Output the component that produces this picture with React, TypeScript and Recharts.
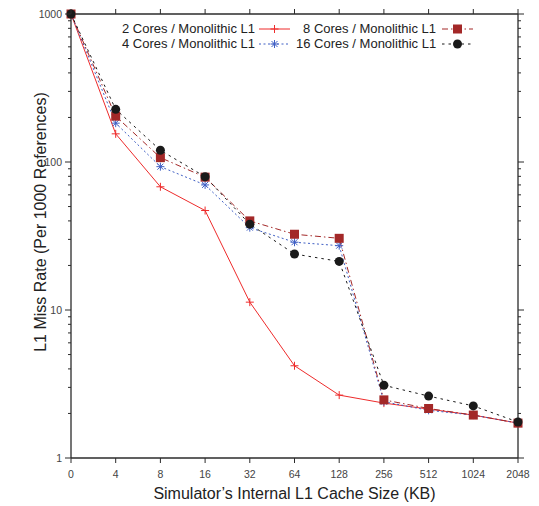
import React from 'react';
import {LineChart, Line, XAxis, YAxis, Legend} from 'recharts';

// L1 cache size in KB (categories on the x axis)
const cacheSizes = ['0', '4', '8', '16', '32', '64', '128', '256', '512', '1024', '2048'];
// miss rate per 1000 references
const twoCores = [1000, 155, 68, 47, 11.3, 4.2, 2.66, 2.35, 2.14, 1.95, 1.72];
const fourCores = [1000, 183, 93, 70, 36, 28.7, 27.2, 2.4, 2.1, 1.95, 1.72];
const eightCores = [1000, 204, 107, 79, 40, 32.5, 30.5, 2.47, 2.16, 1.95, 1.72];
const sixteenCores = [1000, 227, 120, 79.5, 38, 23.9, 21.3, 3.1, 2.62, 2.25, 1.75];

const yTicks = [1, 2, 3, 4, 5, 6, 7, 8, 9, 10, 20, 30, 40, 50, 60, 70, 80, 90, 100, 200, 300, 400, 500, 600, 700, 800, 900, 1000];
const majorTicks = [1, 10, 100, 1000];

const data = cacheSizes.map((size, i) => ({
    size,
    c2: twoCores[i],
    c4: fourCores[i],
    c8: eightCores[i],
    c16: sixteenCores[i],
}));

type MarkerKind = 'plus' | 'star' | 'square' | 'circle';
interface SeriesDef {
    key: string;
    name: string;
    color: string;
    dash?: string;
    marker: MarkerKind;
}

const series: Record<string, SeriesDef> = {
    c2: {key: 'c2', name: '2 Cores / Monolithic L1', color: '#ee2b2b', marker: 'plus'},
    c4: {key: 'c4', name: '4 Cores / Monolithic L1', color: '#3f5fc4', dash: '2 2.5', marker: 'star'},
    c8: {key: 'c8', name: '8 Cores / Monolithic L1', color: '#a32828', dash: '6 3 1.5 3', marker: 'square'},
    c16: {key: 'c16', name: '16 Cores / Monolithic L1', color: '#1a1a1a', dash: '2.5 4', marker: 'circle'},
};
const drawOrder = ['c2', 'c4', 'c8', 'c16'];
const legendOrder = ['c2', 'c8', 'c4', 'c16'];

const AXIS = '#2b2b2b';
const TICK_TEXT = '#444';

const Marker = ({kind, cx, cy, color}: {kind: MarkerKind; cx: number; cy: number; color: string}) => {
    if (cx == null || cy == null) return <g />;
    const r = 4;
    switch (kind) {
        case 'plus':
            return (
                <g stroke={color} strokeWidth={1}>
                    <line x1={cx - r} y1={cy} x2={cx + r} y2={cy} />
                    <line x1={cx} y1={cy - r} x2={cx} y2={cy + r} />
                </g>
            );
        case 'star':
            return (
                <g stroke={color} strokeWidth={1}>
                    <line x1={cx - r} y1={cy} x2={cx + r} y2={cy} />
                    <line x1={cx} y1={cy - r} x2={cx} y2={cy + r} />
                    <line x1={cx - 3} y1={cy - 3} x2={cx + 3} y2={cy + 3} />
                    <line x1={cx - 3} y1={cy + 3} x2={cx + 3} y2={cy - 3} />
                </g>
            );
        case 'square':
            return <rect x={cx - 4.5} y={cy - 4.5} width={9} height={9} fill={color} />;
        default:
            return <circle cx={cx} cy={cy} r={4.5} fill={color} />;
    }
};

const LeftTick = (props: any) => {
    const {x, y, payload} = props;
    const major = majorTicks.includes(payload.value);
    return (
        <g>
            <line x1={x} y1={y} x2={x - (major ? 6 : 3)} y2={y} stroke={AXIS} />
            {major && (
                <text x={x - 9} y={y} dy="0.35em" textAnchor="end" fontSize={10.5} fill={TICK_TEXT}>
                    {payload.value}
                </text>
            )}
        </g>
    );
};

const RightTick = (props: any) => {
    const {x, y, payload} = props;
    const major = majorTicks.includes(payload.value);
    return <line x1={x} y1={y} x2={x + (major ? 6 : 3)} y2={y} stroke={AXIS} />;
};

const BottomTick = (props: any) => {
    const {x, y, payload} = props;
    return (
        <g>
            <line x1={x} y1={y} x2={x} y2={y + 5} stroke={AXIS} />
            <text x={x} y={y + 16} dy="0.35em" textAnchor="middle" fontSize={10.5} fill={TICK_TEXT}>
                {payload.value}
            </text>
        </g>
    );
};

const TopTick = (props: any) => {
    const {x, y} = props;
    return <line x1={x} y1={y} x2={x} y2={y - 5} stroke={AXIS} />;
};

const LegendSample = ({s}: {s: SeriesDef}) => (
    <svg width={31} height={14} style={{display: 'block'}}>
        <line x1={0} y1={7} x2={31} y2={7} stroke={s.color} strokeWidth={1} strokeDasharray={s.dash} />
        <Marker kind={s.marker} cx={15.5} cy={7} color={s.color} />
    </svg>
);

const renderLegend = () => (
    <div
        style={{
            display: 'grid',
            gridTemplateColumns: '131px 31px 140px 31px',
            columnGap: 6,
            rowGap: 1,
            fontSize: 13,
            lineHeight: '14px',
            color: '#222',
        }}
    >
        {legendOrder.map(k => (
            <React.Fragment key={k}>
                <div style={{textAlign: 'right', whiteSpace: 'nowrap'}}>{series[k].name}</div>
                <LegendSample s={series[k]} />
            </React.Fragment>
        ))}
    </div>
);

const YTitle = (props: any) => {
    const {viewBox} = props;
    const cx = 40;
    const cy = viewBox.y + viewBox.height / 2 - 14;
    return (
        <text x={cx} y={cy} transform={`rotate(-90, ${cx}, ${cy})`} textAnchor="middle" dy="0.35em" fontSize={16} fill="#222">
            L1 Miss Rate (Per 1000 References)
        </text>
    );
};

export default function App() {
    return (
        <div style={{position: 'absolute', left: 0, top: 0, fontFamily: '"Liberation Sans", Arial, sans-serif'}}>
            <LineChart width={539} height={506} data={data} margin={{top: 8, right: 15, left: 0, bottom: 0}}>
                <XAxis
                    dataKey="size"
                    height={48}
                    interval={0}
                    tickSize={0}
                    tickMargin={0}
                    tickLine={false}
                    tick={BottomTick}
                    axisLine={{stroke: AXIS, strokeWidth: 1.3}}
                    label={{value: 'Simulator’s Internal L1 Cache Size (KB)', position: 'insideBottom', offset: 7, fontSize: 16, fill: '#222'}}
                />
                <XAxis
                    xAxisId="top"
                    orientation="top"
                    dataKey="size"
                    height={6}
                    interval={0}
                    tickSize={0}
                    tickMargin={0}
                    tickLine={false}
                    tick={TopTick}
                    axisLine={{stroke: AXIS, strokeWidth: 1.3}}
                />
                <YAxis
                    type="number"
                    scale="log"
                    domain={[1, 1000]}
                    ticks={yTicks}
                    interval={0}
                    width={71}
                    tickSize={0}
                    tickMargin={0}
                    tickLine={false}
                    tick={LeftTick}
                    axisLine={{stroke: AXIS, strokeWidth: 1.3}}
                    label={<YTitle />}
                />
                <YAxis
                    yAxisId="right"
                    orientation="right"
                    type="number"
                    scale="log"
                    domain={[1, 1000]}
                    ticks={yTicks}
                    interval={0}
                    width={6}
                    tickSize={0}
                    tickMargin={0}
                    tickLine={false}
                    tick={RightTick}
                    axisLine={{stroke: AXIS, strokeWidth: 1.3}}
                />
                <Legend
                    content={renderLegend}
                    layout="horizontal"
                    verticalAlign="middle"
                    align="center"
                    wrapperStyle={{top: 22, left: 122, width: 360}}
                />
                {drawOrder.map(k => {
                    const s = series[k];
                    const onMirror = k === 'c16';
                    return (
                        <Line
                            key={k}
                            xAxisId={onMirror ? 'top' : 0}
                            yAxisId={onMirror ? 'right' : 0}
                            dataKey={k}
                            name={s.name}
                            type="linear"
                            stroke={s.color}
                            strokeWidth={1}
                            strokeDasharray={s.dash}
                            isAnimationActive={false}
                            dot={(p: any) => <Marker key={`${k}-${p.index}`} kind={s.marker} cx={p.cx} cy={p.cy} color={s.color} />}
                            activeDot={false}
                        />
                    );
                })}
            </LineChart>
        </div>
    );
}
